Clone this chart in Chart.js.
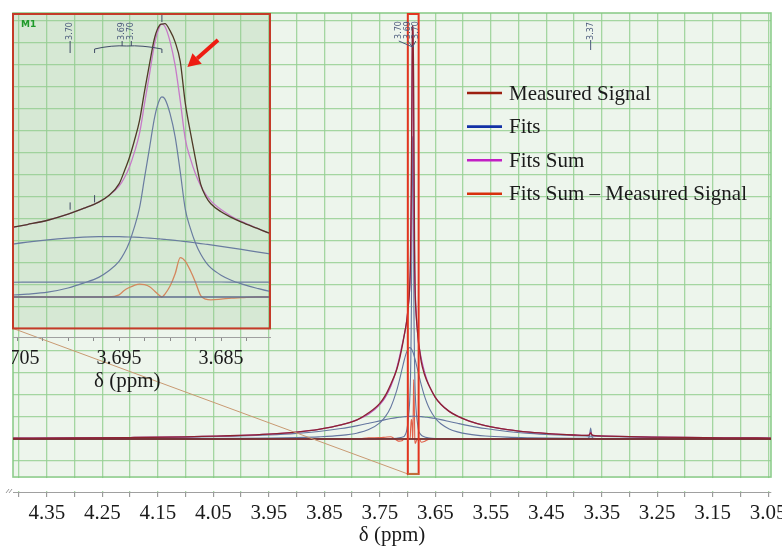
<!DOCTYPE html>
<html><head><meta charset="utf-8">
<script src="https://cdn.jsdelivr.net/npm/chart.js"></script>
<style>
html,body{margin:0;padding:0;background:#fff;}
#wrap{position:relative;width:782px;height:546px;overflow:hidden;}
#main{position:absolute;left:0;top:0;}
#inset{position:absolute;left:0;top:0;z-index:2;clip-path:inset(0 0 0 12px);}
</style></head><body>
<div id="wrap"><canvas id="main" width="782" height="546"></canvas><canvas id="inset" width="280" height="400"></canvas></div>
<script>
// ---------------- data (chemical shift grid, ppm) ----------------
const ppm = [
  4.411, 4.30, 4.20, 4.10, 4.00, 3.95, 3.90, 3.86, 3.82, 3.79,
  3.77, 3.75, 3.74, 3.73, 3.72, 3.715, 3.71, 3.706, 3.704, 3.702,
  3.700, 3.6985, 3.697, 3.696, 3.695, 3.6945, 3.694, 3.6935, 3.693, 3.6925,
  3.692, 3.6915, 3.691, 3.6908, 3.6905, 3.690, 3.6895, 3.689, 3.6885, 3.688,
  3.6875, 3.687, 3.6865, 3.686, 3.685, 3.684, 3.683, 3.6815, 3.680, 3.679,
  3.675, 3.670, 3.665, 3.660, 3.650, 3.640, 3.625, 3.610, 3.590, 3.560,
  3.520, 3.480, 3.440, 3.400, 3.380, 3.374, 3.372, 3.370, 3.368, 3.366,
  3.355, 3.320, 3.260, 3.200, 3.120, 3.045
];
const measured = [
  0.033, 0.045, 0.064, 0.097, 0.162, 0.221, 0.315, 0.437, 0.636, 0.882,
  1.188, 1.621, 1.981, 2.503, 3.109, 3.568, 4.161, 4.71, 4.981, 5.274,
  5.689, 6.084, 6.519, 6.977, 7.771, 8.614, 9.553, 10.739, 12.101, 14.15,
  16.076, 17.85, 18.70, 18.758, 18.788, 18.304, 17.517, 16.178, 13.287, 11.295,
  9.45, 7.754, 6.906, 6.408, 5.856, 5.471, 5.144, 4.73, 4.327, 4.16,
  3.467, 2.976, 2.632, 2.359, 1.893, 1.578, 1.254, 1.036, 0.827, 0.61,
  0.425, 0.309, 0.232, 0.18, 0.16, 0.165, 0.2, 0.28, 0.2, 0.16,
  0.139, 0.116, 0.088, 0.069, 0.052, 0.040
];
const fitNarrow = [
  0, 0, 0, 0, 0, 0, 0, 0, 0, 0,
  0, 0.005, 0.01, 0.02, 0.03, 0.05, 0.08, 0.12, 0.2, 0.33,
  0.62, 0.95, 1.35, 1.8, 2.45, 3.0, 3.75, 4.8, 6.1, 8.2,
  10.3, 12.4, 13.6, 13.75, 13.6, 12.6, 11.0, 8.6, 6.0, 4.7,
  3.7, 2.95, 2.4, 2.0, 1.5, 1.15, 0.9, 0.6, 0.36, 0.3,
  0.17, 0.1, 0.06, 0.04, 0.02, 0.01, 0, 0, 0, 0,
  0, 0, 0, 0, 0, 0, 0, 0, 0, 0,
  0, 0, 0, 0, 0, 0
];
const fitMedium = [
  0.005, 0.007, 0.010, 0.016, 0.028, 0.040, 0.061, 0.094, 0.162, 0.274,
  0.425, 0.732, 1.013, 1.456, 2.160, 2.631, 3.159, 3.578, 3.765, 3.924,
  4.046, 4.109, 4.143, 4.15, 4.143, 4.135, 4.124, 4.109, 4.091, 4.070,
  4.046, 4.020, 3.990, 3.978, 3.958, 3.924, 3.887, 3.848, 3.807, 3.765,
  3.720, 3.674, 3.626, 3.578, 3.477, 3.373, 3.267, 3.105, 2.944, 2.838,
  2.433, 1.994, 1.635, 1.350, 0.946, 0.690, 0.458, 0.323, 0.219, 0.136,
  0.082, 0.055, 0.039, 0.029, 0.026, 0.025, 0.025, 0.025, 0.025, 0.025,
  0.022, 0.018, 0.014, 0.011, 0.008, 0.006
];
const fitBroad = [
  0.028, 0.038, 0.054, 0.081, 0.134, 0.181, 0.254, 0.343, 0.474, 0.608,
  0.713, 0.824, 0.878, 0.927, 0.969, 0.987, 1.002, 1.012, 1.016, 1.020,
  1.023, 1.025, 1.026, 1.027, 1.028, 1.029, 1.029, 1.03, 1.03, 1.03,
  1.03, 1.03, 1.03, 1.03, 1.03, 1.03, 1.03, 1.03, 1.03, 1.03,
  1.03, 1.03, 1.03, 1.03, 1.029, 1.028, 1.027, 1.025, 1.023, 1.022,
  1.014, 1.002, 0.987, 0.969, 0.927, 0.878, 0.796, 0.713, 0.608, 0.474,
  0.343, 0.254, 0.193, 0.151, 0.134, 0.130, 0.129, 0.127, 0.126, 0.125,
  0.117, 0.098, 0.074, 0.058, 0.044, 0.034
];
const fitSmall = [
  0, 0, 0, 0, 0, 0, 0, 0, 0, 0,
  0, 0, 0, 0, 0, 0, 0, 0, 0, 0,
  0, 0, 0, 0, 0, 0, 0, 0, 0, 0,
  0, 0, 0, 0, 0, 0, 0, 0, 0, 0,
  0, 0, 0, 0, 0, 0, 0, 0, 0, 0,
  0, 0, 0, 0, 0, 0, 0, 0, 0, 0,
  0, 0, 0, 0, 0, 0.03, 0.15, 0.5, 0.15, 0.03,
  0, 0, 0, 0, 0, 0
];
const fitsSum = [
  0.033, 0.045, 0.064, 0.097, 0.162, 0.221, 0.315, 0.437, 0.636, 0.882,
  1.138, 1.561, 1.901, 2.403, 3.159, 3.668, 4.241, 4.71, 4.981, 5.274,
  5.689, 6.084, 6.519, 6.977, 7.621, 8.164, 8.903, 9.939, 11.221, 13.3,
  15.376, 17.45, 18.62, 18.758, 18.588, 17.554, 15.917, 13.478, 10.837, 9.495,
  8.45, 7.654, 7.056, 6.608, 6.006, 5.551, 5.194, 4.73, 4.327, 4.16,
  3.617, 3.096, 2.682, 2.359, 1.893, 1.578, 1.254, 1.036, 0.827, 0.61,
  0.425, 0.309, 0.232, 0.18, 0.16, 0.17, 0.21, 0.30, 0.21, 0.16,
  0.139, 0.116, 0.088, 0.069, 0.052, 0.040
];
const residual = [
  0, 0, 0, 0, 0, 0, 0, 0, 0, 0,
  0.05, 0.06, 0.08, 0.1, -0.05, -0.1, -0.08, 0, 0, 0,
  0, 0, 0, 0, 0.15, 0.45, 0.65, 0.8, 0.88, 0.85,
  0.7, 0.4, 0.08, 0, 0.2, 0.75, 1.6, 2.7, 2.45, 1.8,
  1.0, 0.1, -0.15, -0.2, -0.15, -0.08, -0.05, 0, 0, 0,
  -0.15, -0.12, -0.05, 0, 0, 0, 0, 0, 0, 0,
  0, 0, 0, 0, 0, 0, 0, 0, 0, 0,
  0, 0, 0, 0, 0, 0
];

// ---------------- axes, labels, annotations ----------------
const mainTickLabels = ['4.35','4.25','4.15','4.05','3.95','3.85','3.75','3.65','3.55','3.45','3.35','3.25','3.15','3.05'];
const insetTickLabels = ['3.705','3.695','3.685'];
const legendLabels = ['Measured Signal', 'Fits', 'Fits Sum', 'Fits Sum \u2013 Measured Signal'];
const legendColors = ['#9c1f10', '#1230a6', '#c21fc4', '#d8300c'];
const MAIN_X = {min: 3.045, max: 4.411};
const MAIN_Y = {min: -2.41, max: 19.36};
const MAIN_PLOT_BOTTOM = -1.73;
const ZOOM_BOX = {from: 3.6995, to: 3.6800, bottom: -1.59};
const INSET_X = {min: 3.6802, max: 3.7054};
const INSET_Y = {min: -2.75, max: 19.45};
const INSET_BOX_BOTTOM = -2.16;
const INSET_TITLE_PPM = 3.6942;
const mainPeakLabels = [{ppm: 3.7158, t: '3.70'}, {ppm: 3.6995, t: '3.69'}, {ppm: 3.6851, t: '3.70'}];
const mainPeakTarget = 3.6908;
const smallPeak = {ppm: 3.37, t: '3.37'};
const insetPeakLabels = [{ppm: 3.6998, t: '3.70'}, {ppm: 3.6947, t: '3.69'}, {ppm: 3.6938, t: '3.70'}];
const insetBracket = [3.6974, 3.6908];
const ARROW = {from: [3.6853, 17.66], to: [3.6883, 15.8]};

const SERIF = "'Liberation Serif','Times New Roman',serif";
const GRID = 'rgba(150,208,148,0.85)';
const PLOT_BG = '#edf5ec';

const mainGridPpm = []; for (let k = 440; k >= 305; k -= 5) mainGridPpm.push(k / 100);
const insetGridPpm = []; for (let k = 37050; k >= 36825; k -= 25) insetGridPpm.push(k / 10000);
const yGrid = []; for (let k = -2; k <= 19; k++) yGrid.push(k);

const pts = arr => ppm.map((p, i) => ({x: p, y: arr[i]}));
function lineDs(label, arr, color, width) {
  return {label, data: pts(arr), borderColor: color, borderWidth: width, pointRadius: 0,
          fill: false, cubicInterpolationMode: 'monotone'};
}
function buildDatasets(c, xr) {
  return [
    lineDs('Measured Signal', measured, c.measured, c.wm),
    {label: 'zero', data: [{x: xr.max, y: 0}, {x: xr.min, y: 0}], borderColor: c.base, borderWidth: c.wb, pointRadius: 0, fill: false},
    lineDs('Fits Sum', fitsSum, c.sum, c.ws),
    lineDs('Fits', fitNarrow, c.fit, c.wf),
    lineDs('Fits', fitMedium, c.fit, c.wf),
    lineDs('Fits', fitBroad, c.fit, c.wf),
    lineDs('Fits', fitSmall, c.fit, c.wf),
    lineDs('Fits Sum \u2013 Measured Signal', residual, c.res, c.wr)
  ];
}
function vText(ctx, t, x, y) {
  ctx.save(); ctx.translate(x, y); ctx.rotate(-Math.PI / 2);
  ctx.textAlign = 'center'; ctx.textBaseline = 'middle'; ctx.fillText(t, 0, 0); ctx.restore();
}
function seg(ctx, x1, y1, x2, y2) { ctx.beginPath(); ctx.moveTo(x1, y1); ctx.lineTo(x2, y2); ctx.stroke(); }

// ---------------- inset chart ----------------
const insetDeco = {
  id: 'insetDeco',
  beforeDraw(chart) {
    const {ctx, chartArea: a, scales: {y}} = chart;
    const bb = y.getPixelForValue(INSET_BOX_BOTTOM);
    ctx.save(); ctx.fillStyle = 'rgba(150,200,148,0.27)';
    ctx.fillRect(a.left, a.top, a.right - a.left, bb - a.top); ctx.restore();
  },
  afterDatasetsDraw(chart) {
    const {ctx, chartArea: a, scales: {x, y}} = chart;
    const bb = y.getPixelForValue(INSET_BOX_BOTTOM);
    ctx.save();
    ctx.strokeStyle = '#c43a28'; ctx.lineWidth = 2;
    ctx.strokeRect(a.left, a.top, a.right - a.left, bb - a.top);
    ctx.fillStyle = '#1f9a2a'; ctx.font = "bold 9px 'DejaVu Sans'"; ctx.textBaseline = 'middle'; ctx.textAlign = 'left';
    ctx.fillText('M1', a.left + 8, a.top + 11);
    ctx.fillStyle = '#4b5a7c'; ctx.strokeStyle = '#3f4a66'; ctx.lineWidth = 1;
    ctx.font = "8px 'DejaVu Sans'";
    insetPeakLabels.forEach((p, i) => {
      const px = x.getPixelForValue(p.ppm);
      vText(ctx, p.t, px, a.top + 17);
      if (i === 0) seg(ctx, px, a.top + 27, px, a.top + 39);
      else seg(ctx, px, a.top + 27, px, a.top + 32);
    });
    const b1 = x.getPixelForValue(insetBracket[0]), b2 = x.getPixelForValue(insetBracket[1]);
    const bm = (x.getPixelForValue(insetPeakLabels[1].ppm) + x.getPixelForValue(insetPeakLabels[2].ppm)) / 2;
    ctx.beginPath(); ctx.moveTo(b1, a.top + 39); ctx.lineTo(b1, a.top + 35);
    ctx.quadraticCurveTo(bm - 15, a.top + 31, bm, a.top + 32);
    ctx.quadraticCurveTo(bm + 15, a.top + 31, b2, a.top + 35); ctx.lineTo(b2, a.top + 39); ctx.stroke();
    seg(ctx, b2, a.top + 1, b2, a.top + 8);
    const m1 = x.getPixelForValue(insetPeakLabels[0].ppm), m2 = x.getPixelForValue(insetBracket[0]);
    seg(ctx, m1, y.getPixelForValue(6.5), m1, y.getPixelForValue(6.0));
    seg(ctx, m2, y.getPixelForValue(7.0), m2, y.getPixelForValue(6.5));
    // red arrow
    const t = {x: x.getPixelForValue(ARROW.from[0]), y: y.getPixelForValue(ARROW.from[1])};
    const h = {x: x.getPixelForValue(ARROW.to[0]), y: y.getPixelForValue(ARROW.to[1])};
    const ang = Math.atan2(h.y - t.y, h.x - t.x), L = 13, W = 7;
    const bx = h.x - L * Math.cos(ang), by = h.y - L * Math.sin(ang);
    ctx.strokeStyle = '#ee1c12'; ctx.fillStyle = '#ee1c12'; ctx.lineWidth = 4;
    seg(ctx, t.x, t.y, bx, by);
    ctx.beginPath(); ctx.moveTo(h.x, h.y);
    ctx.lineTo(bx + W * Math.sin(ang), by - W * Math.cos(ang));
    ctx.lineTo(bx - W * Math.sin(ang), by + W * Math.cos(ang)); ctx.closePath(); ctx.fill();
    // axis title
    ctx.fillStyle = '#1a1a1a'; ctx.font = '21px ' + SERIF; ctx.textAlign = 'center'; ctx.textBaseline = 'middle';
    ctx.fillText('\u03b4 (ppm)', x.getPixelForValue(INSET_TITLE_PPM), a.bottom + 44);
    ctx.restore();
  }
};

const insetChart = new Chart(document.getElementById('inset'), {
  type: 'line',
  data: {datasets: buildDatasets({measured: '#4f3a27', sum: '#c77ac8', fit: '#6a7ca0', res: '#d4875e', base: '#5d6883',
                                  wm: 1.3, ws: 1.3, wf: 1.2, wr: 1.3, wb: 1.2}, INSET_X)},
  options: {
    responsive: false, maintainAspectRatio: false, animation: false, events: [],
    layout: {padding: {left: 13, right: 10, top: 14, bottom: 0}},
    plugins: {legend: {display: false}, tooltip: {enabled: false}},
    scales: {
      x: {type: 'linear', reverse: true, min: INSET_X.min, max: INSET_X.max,
          afterBuildTicks: s => { s.ticks = insetGridPpm.map(v => ({value: v})); },
          afterFit: s => { s.height = 63; s.paddingLeft = 0; s.paddingRight = 0; },
          grid: {drawOnChartArea: false, drawTicks: true, tickLength: 4, tickColor: '#8a8a8a'},
          border: {display: true, color: '#a0a0a0', width: 1},
          ticks: {autoSkip: false, maxRotation: 0, minRotation: 0, padding: 6, color: '#1a1a1a',
                  font: {family: SERIF, size: 20},
                  callback: v => { const s = Number(v).toFixed(3); return insetTickLabels.includes(s) ? s : ''; }}},
      y: {type: 'linear', display: false, min: INSET_Y.min, max: INSET_Y.max}
    }
  },
  plugins: [insetDeco]
});

// ---------------- main chart ----------------
const mainDeco = {
  id: 'mainDeco',
  beforeDraw(chart) {
    const {ctx, chartArea: a, scales: {y}} = chart;
    const b = y.getPixelForValue(MAIN_PLOT_BOTTOM);
    ctx.save(); ctx.fillStyle = PLOT_BG; ctx.fillRect(a.left, a.top, a.right - a.left, b - a.top); ctx.restore();
  },
  beforeDatasetsDraw(chart) {
    const {ctx, chartArea: a, scales: {y}} = chart;
    const b = y.getPixelForValue(MAIN_PLOT_BOTTOM);
    ctx.save();
    ctx.fillStyle = '#ffffff';
    ctx.fillRect(a.left - 2, b + 1, a.right - a.left + 4, a.bottom - b - 2);
    ctx.strokeStyle = 'rgba(130,200,128,0.9)'; ctx.lineWidth = 1.6;
    ctx.strokeRect(a.left, a.top, a.right - a.left, b - a.top);
    // axis break mark
    ctx.strokeStyle = '#9a9a9a'; ctx.lineWidth = 1;
    seg(ctx, a.left - 7, a.bottom + 1, a.left - 4, a.bottom - 3);
    seg(ctx, a.left - 4, a.bottom + 1, a.left - 1, a.bottom - 3);
    ctx.restore();
  },
  afterDatasetsDraw(chart) {
    const {ctx, chartArea: a, scales: {x, y}} = chart;
    ctx.save();
    const bx1 = x.getPixelForValue(ZOOM_BOX.from), bx2 = x.getPixelForValue(ZOOM_BOX.to);
    const byb = y.getPixelForValue(ZOOM_BOX.bottom);
    // connector from inset corner to zoom box
    const ia = insetChart.chartArea, iyb = insetChart.scales.y.getPixelForValue(INSET_BOX_BOTTOM);
    ctx.strokeStyle = '#c99a72'; ctx.lineWidth = 1;
    seg(ctx, ia.left, iyb, bx1, byb);
    // zoom box
    ctx.strokeStyle = '#e2341f'; ctx.lineWidth = 2;
    ctx.strokeRect(bx1, a.top + 1, bx2 - bx1, byb - a.top - 1);
    ctx.strokeStyle = '#c0703c'; seg(ctx, bx1, byb, bx2, byb);
    // peak labels
    ctx.fillStyle = '#4b5a7c'; ctx.strokeStyle = '#4b5a7c'; ctx.lineWidth = 1;
    ctx.font = "8px 'DejaVu Sans'";
    const tx = x.getPixelForValue(mainPeakTarget);
    mainPeakLabels.forEach(p => {
      const px = x.getPixelForValue(p.ppm);
      vText(ctx, p.t, px, a.top + 17);
      seg(ctx, px, a.top + 28, tx, a.top + 34);
    });
    const sx = x.getPixelForValue(smallPeak.ppm);
    vText(ctx, smallPeak.t, sx, a.top + 18);
    seg(ctx, sx, a.top + 27, sx, a.top + 37);
    // legend
    ctx.font = '21px ' + SERIF; ctx.textAlign = 'left'; ctx.textBaseline = 'middle';
    legendLabels.forEach((t, i) => {
      const ly = 93 + i * 33.6;
      ctx.strokeStyle = legendColors[i]; ctx.lineWidth = 2.6;
      seg(ctx, 467, ly, 502, ly);
      ctx.fillStyle = '#1a1a1a'; ctx.fillText(t, 509, ly + 1);
    });
    ctx.restore();
  }
};

new Chart(document.getElementById('main'), {
  type: 'line',
  data: {datasets: buildDatasets({measured: '#8c2330', sum: '#b553b8', fit: '#6577a0', res: '#e0604a', base: '#7a1f1a',
                                  wm: 1.3, ws: 1.3, wf: 1.1, wr: 1.1, wb: 1.4}, MAIN_X)},
  options: {
    responsive: false, maintainAspectRatio: false, animation: false, events: [],
    layout: {padding: {left: 13, right: 11, top: 13, bottom: 0}},
    plugins: {legend: {display: false}, tooltip: {enabled: false}},
    scales: {
      x: {type: 'linear', reverse: true, min: MAIN_X.min, max: MAIN_X.max,
          afterBuildTicks: s => { s.ticks = mainGridPpm.map(v => ({value: v})); },
          afterFit: s => { s.height = 54; s.paddingLeft = 0; s.paddingRight = 0; },
          grid: {color: GRID, lineWidth: 1.3, drawTicks: true, tickLength: 5, tickColor: '#8a8a8a', tickWidth: 1},
          border: {display: true, color: '#a0a0a0', width: 1},
          ticks: {autoSkip: false, maxRotation: 0, minRotation: 0, padding: 4, color: '#1a1a1a',
                  font: {family: SERIF, size: 21},
                  callback: v => { const s = Number(v).toFixed(2); return mainTickLabels.includes(s) ? s : ''; }},
          title: {display: true, text: '\u03b4 (ppm)', color: '#1a1a1a',
                  font: {family: SERIF, size: 21, lineHeight: 1}, padding: {top: 0, bottom: 0}}},
      y: {type: 'linear', min: MAIN_Y.min, max: MAIN_Y.max,
          afterBuildTicks: s => { s.ticks = yGrid.map(v => ({value: v})); },
          afterFit: s => { s.width = 0; },
          ticks: {display: false},
          grid: {color: GRID, lineWidth: 1.3, drawTicks: false},
          border: {display: false}}
    }
  },
  plugins: [mainDeco]
});
</script></body></html>
